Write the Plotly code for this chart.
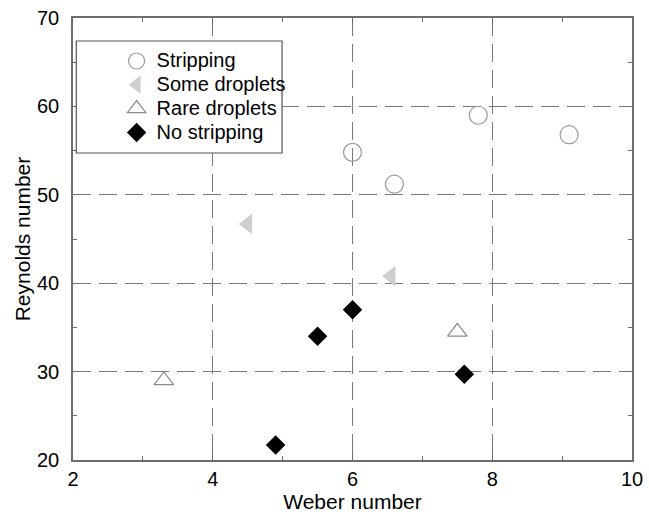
import plotly.graph_objects as go

# Weber / Reynolds numbers for each observed regime
strip_we = [6.0, 6.6, 7.8, 9.1]
strip_re = [54.8, 51.2, 59.0, 56.8]

some_we = [4.5, 6.55]
some_re = [46.7, 40.8]

rare_we = [3.3, 7.5]
rare_re = [29.0, 34.5]

none_we = [4.9, 5.5, 6.0, 7.6]
none_re = [21.7, 34.0, 37.0, 29.7]

FONT = "Liberation Sans, Arial, Helvetica, sans-serif"
AXIS_COLOR = "#6e6e6e"
GRID_COLOR = "#7a7a7a"


def legend_label(text):
    # larger glyphs than the legend's nominal font, so rows stay tightly spaced
    return f'<span style="font-size:20px">{text}</span>'


fig = go.Figure()
fig.add_trace(go.Scatter(
    x=strip_we, y=strip_re, mode="markers", name=legend_label("Stripping"),
    marker=dict(symbol="circle-open", size=18, color="#9a9a9a",
                line=dict(width=1.2, color="#9a9a9a")),
))
fig.add_trace(go.Scatter(
    x=some_we, y=some_re, mode="markers", name=legend_label("Some droplets"),
    marker=dict(symbol="triangle-left", size=18, color="#cfcfcf",
                line=dict(width=0)),
))
fig.add_trace(go.Scatter(
    x=rare_we, y=rare_re, mode="markers", name=legend_label("Rare droplets"),
    marker=dict(symbol="triangle-up-open", size=17, color="#8a8a8a",
                line=dict(width=1.2, color="#8a8a8a")),
))
fig.add_trace(go.Scatter(
    x=none_we, y=none_re, mode="markers", name=legend_label("No stripping"),
    marker=dict(symbol="diamond", size=15, color="black",
                line=dict(width=0)),
))

axis_common = dict(
    showline=True, mirror="ticks", linecolor=AXIS_COLOR, linewidth=1.5,
    ticks="inside", ticklen=8, tickwidth=1.2, tickcolor=AXIS_COLOR,
    showgrid=True, gridcolor=GRID_COLOR, gridwidth=1.3, griddash="18px,8px",
    zeroline=False, automargin=False,
    tickfont=dict(family=FONT, size=20, color="black"),
)

fig.update_xaxes(
    range=[2, 10], dtick=2, tick0=2,
    minor=dict(ticks="inside", ticklen=4, dtick=1, tick0=2,
               tickcolor=AXIS_COLOR, showgrid=False),
    title=dict(text="Weber number", font=dict(family=FONT, size=21, color="black"),
               standoff=2),
    **axis_common,
)
fig.update_yaxes(
    range=[20, 70], dtick=10, tick0=20,
    minor=dict(ticks="inside", ticklen=4, dtick=5, tick0=20,
               tickcolor=AXIS_COLOR, showgrid=False),
    ticklabelstandoff=8,
    title=dict(text="Reynolds number", font=dict(family=FONT, size=21, color="black"),
               standoff=1),
    **axis_common,
)

# Framed legend box
fig.add_shape(type="rect", xref="paper", yref="paper",
              x0=0.0059, x1=0.374, y0=0.6946, y1=0.948,
              line=dict(color="#555555", width=1.2), fillcolor="white",
              layer="above")

fig.update_layout(
    width=649, height=515,
    margin=dict(l=73, r=17, t=18, b=55),
    plot_bgcolor="white", paper_bgcolor="white",
    font=dict(family=FONT, color="black"),
    showlegend=True,
    legend=dict(x=0.078, y=0.941, xanchor="left", yanchor="top",
                bgcolor="rgba(0,0,0,0)", borderwidth=0,
                font=dict(family=FONT, size=16, color="black"),
                itemsizing="trace", tracegroupgap=0),
)

fig.write_html("out.html")
